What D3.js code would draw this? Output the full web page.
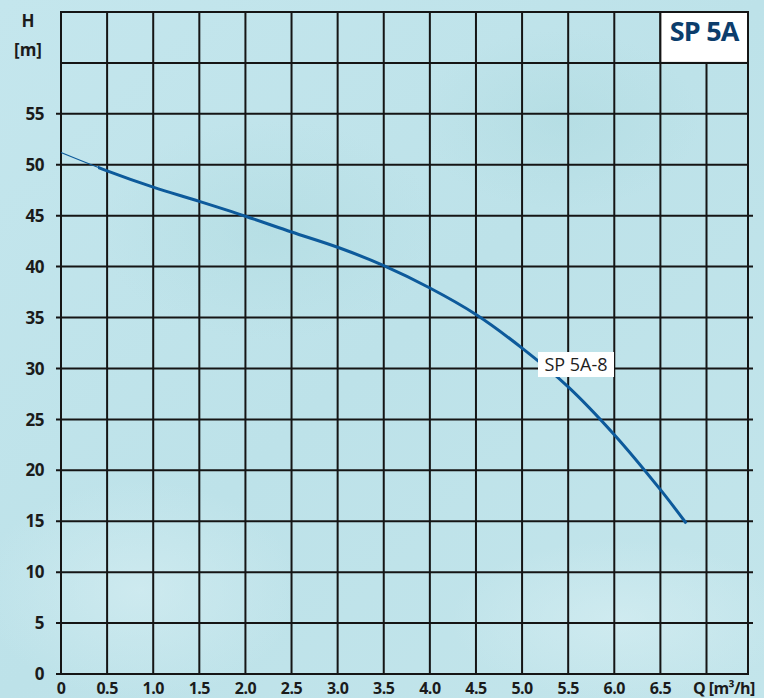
<!DOCTYPE html>
<html>
<head>
<meta charset="utf-8">
<script src="https://cdn.jsdelivr.net/npm/d3@7"></script>
<style>
  body { margin: 0; padding: 0; }
  svg { display: block; }
</style>
</head>
<body>
<div id="chart"></div>
<script>
// pump curve SP 5A-8
var flowQ = [0, 0.5, 1.0, 1.5, 2.0, 2.5, 3.0, 3.5, 4.0, 4.5, 5.0, 5.5, 6.0, 6.5, 6.78];
var headH = [51.2, 49.4, 47.8, 46.4, 44.95, 43.4, 41.9, 40.1, 37.9, 35.3, 32.0, 28.2, 23.5, 18.1, 14.8];
var xTicks = [0, 0.5, 1.0, 1.5, 2.0, 2.5, 3.0, 3.5, 4.0, 4.5, 5.0, 5.5, 6.0, 6.5];
var xGrid = [0.5, 1.0, 1.5, 2.0, 2.5, 3.0, 3.5, 4.0, 4.5, 5.0, 5.5, 6.0, 6.5, 7.0];
var yTicks = [0, 5, 10, 15, 20, 25, 30, 35, 40, 45, 50, 55];
var yGrid = [5, 10, 15, 20, 25, 30, 35, 40, 45, 50, 55, 60, 65];
var seriesName = "SP 5A-8";
var chartTitle = "SP 5A";

var width = 764;
var height = 698;
var fontFam = "'Open Sans', 'Noto Sans', sans-serif";

var svg = d3.select("#chart")
  .append("svg")
  .attr("width", width)
  .attr("height", height);

var defs = svg.append("defs");

// background, light cyan with some soft blotches
var bg = defs.append("linearGradient")
  .attr("id", "bg")
  .attr("x1", "0").attr("y1", "0")
  .attr("x2", "1").attr("y2", "1");
bg.append("stop").attr("offset", "0%").attr("stop-color", "#c4e6ed");
bg.append("stop").attr("offset", "50%").attr("stop-color", "#bde2e9");
bg.append("stop").attr("offset", "100%").attr("stop-color", "#c3e5eb");

var blob = defs.append("radialGradient").attr("id", "blob");
blob.append("stop").attr("offset", "0%").attr("stop-color", "#acd9de").attr("stop-opacity", 0.45);
blob.append("stop").attr("offset", "100%").attr("stop-color", "#acd9de").attr("stop-opacity", 0);

var light = defs.append("radialGradient").attr("id", "light");
light.append("stop").attr("offset", "0%").attr("stop-color", "#d8eff3").attr("stop-opacity", 0.6);
light.append("stop").attr("offset", "100%").attr("stop-color", "#d8eff3").attr("stop-opacity", 0);

svg.append("rect")
  .attr("width", width)
  .attr("height", height)
  .attr("fill", "url(#bg)");

svg.append("ellipse").attr("cx", 270).attr("cy", 230).attr("rx", 170).attr("ry", 110).attr("fill", "url(#blob)");
svg.append("ellipse").attr("cx", 560).attr("cy", 120).attr("rx", 140).attr("ry", 90).attr("fill", "url(#blob)");
svg.append("ellipse").attr("cx", 140).attr("cy", 590).attr("rx", 160).attr("ry", 110).attr("fill", "url(#light)");
svg.append("ellipse").attr("cx", 620).attr("cy", 620).attr("rx", 170).attr("ry", 80).attr("fill", "url(#light)");

var x = d3.scaleLinear().domain([0, 7.45]).range([61, 748]);
var y = d3.scaleLinear().domain([0, 65]).range([674, 12]);

var gridColor = "#151515";

// vertical grid lines
svg.append("g")
  .selectAll("line")
  .data(xGrid)
  .enter()
  .append("line")
  .attr("x1", function(d) { return x(d); })
  .attr("x2", function(d) { return x(d); })
  .attr("y1", y(65))
  .attr("y2", y(0))
  .attr("stroke", gridColor)
  .attr("stroke-width", 2);

// horizontal grid lines (tick stubs stick out to the left)
svg.append("g")
  .selectAll("line")
  .data(yGrid)
  .enter()
  .append("line")
  .attr("x1", function(d) { return d <= 55 ? 56 : x(0); })
  .attr("x2", function(d) { return d <= 45 ? 753 : x(7.45); })
  .attr("y1", function(d) { return y(d); })
  .attr("y2", function(d) { return y(d); })
  .attr("stroke", gridColor)
  .attr("stroke-width", 2);

// frame: left and right borders, bottom axis
svg.append("line")
  .attr("x1", x(0)).attr("x2", x(0))
  .attr("y1", y(65) - 1).attr("y2", y(0) + 1)
  .attr("stroke", gridColor).attr("stroke-width", 2);
svg.append("line")
  .attr("x1", x(7.45)).attr("x2", x(7.45))
  .attr("y1", y(65) - 1).attr("y2", y(0) + 1)
  .attr("stroke", gridColor).attr("stroke-width", 2);
svg.append("line")
  .attr("x1", 56).attr("x2", x(7.45))
  .attr("y1", y(0)).attr("y2", y(0))
  .attr("stroke", gridColor).attr("stroke-width", 2);

// title box in the top right cell
svg.append("rect")
  .attr("x", x(6.5))
  .attr("y", y(65))
  .attr("width", x(7.45) - x(6.5))
  .attr("height", y(60) - y(65))
  .attr("fill", "#ffffff")
  .attr("stroke", gridColor)
  .attr("stroke-width", 2);

svg.append("text")
  .attr("x", (x(6.5) + x(7.45)) / 2)
  .attr("y", 41)
  .attr("text-anchor", "middle")
  .style("font-family", fontFam)
  .style("font-size", "27px")
  .style("font-weight", "bold")
  .style("letter-spacing", "-0.8px")
  .attr("fill", "#0c3d6c")
  .text(chartTitle);

// curve: thin at shut-off, thick afterwards
var pts = flowQ.map(function(q, i) { return [q, headH[i]]; });
var line = d3.line()
  .x(function(d) { return x(d[0]); })
  .y(function(d) { return y(d[1]); })
  .curve(d3.curveCatmullRom);

defs.append("clipPath")
  .attr("id", "thick-clip")
  .append("rect")
  .attr("x", x(0.4))
  .attr("y", 0)
  .attr("width", width)
  .attr("height", height);

svg.append("path")
  .datum(pts)
  .attr("d", line)
  .attr("fill", "none")
  .attr("stroke", "#0d5a9b")
  .attr("stroke-width", 1.2);

svg.append("path")
  .datum(pts)
  .attr("d", line)
  .attr("fill", "none")
  .attr("stroke", "#0d5a9b")
  .attr("stroke-width", 3)
  .attr("clip-path", "url(#thick-clip)");

// series label
svg.append("rect")
  .attr("x", 538)
  .attr("y", 352)
  .attr("width", 76)
  .attr("height", 25)
  .attr("fill", "#ffffff");

svg.append("text")
  .attr("x", 576)
  .attr("y", 371)
  .attr("text-anchor", "middle")
  .style("font-family", fontFam)
  .style("font-size", "18px")
  .attr("fill", "#1e1e1e")
  .text(seriesName);

// tick labels
svg.append("g")
  .selectAll("text")
  .data(yTicks)
  .enter()
  .append("text")
  .attr("x", 44)
  .attr("y", function(d) { return y(d); })
  .attr("dy", "0.36em")
  .attr("text-anchor", "end")
  .style("font-family", fontFam)
  .style("font-size", "17px")
  .style("font-weight", "bold")
  .style("letter-spacing", "-0.5px")
  .attr("fill", "#1b1b1b")
  .text(function(d) { return d; });

svg.append("g")
  .selectAll("text")
  .data(xTicks)
  .enter()
  .append("text")
  .attr("x", function(d) { return x(d); })
  .attr("y", 694)
  .attr("text-anchor", "middle")
  .style("font-family", fontFam)
  .style("font-size", "16px")
  .style("font-weight", "bold")
  .style("letter-spacing", "-0.5px")
  .attr("fill", "#1b1b1b")
  .text(function(d) { return d === 0 ? "0" : d.toFixed(1); });

// axis titles
svg.append("text")
  .attr("x", 28)
  .attr("y", 27)
  .attr("text-anchor", "middle")
  .style("font-family", fontFam)
  .style("font-size", "17px")
  .style("font-weight", "bold")
  .attr("fill", "#1b1b1b")
  .text("H");

svg.append("text")
  .attr("x", 28)
  .attr("y", 56)
  .attr("text-anchor", "middle")
  .style("font-family", fontFam)
  .style("font-size", "17px")
  .style("font-weight", "bold")
  .attr("fill", "#1b1b1b")
  .text("[m]");

svg.append("text")
  .attr("x", 693)
  .attr("y", 694)
  .attr("text-anchor", "start")
  .style("font-family", fontFam)
  .style("font-size", "16px")
  .style("font-weight", "bold")
  .style("letter-spacing", "-0.6px")
  .attr("fill", "#1b1b1b")
  .text("Q [m³/h]");
</script>
</body>
</html>
